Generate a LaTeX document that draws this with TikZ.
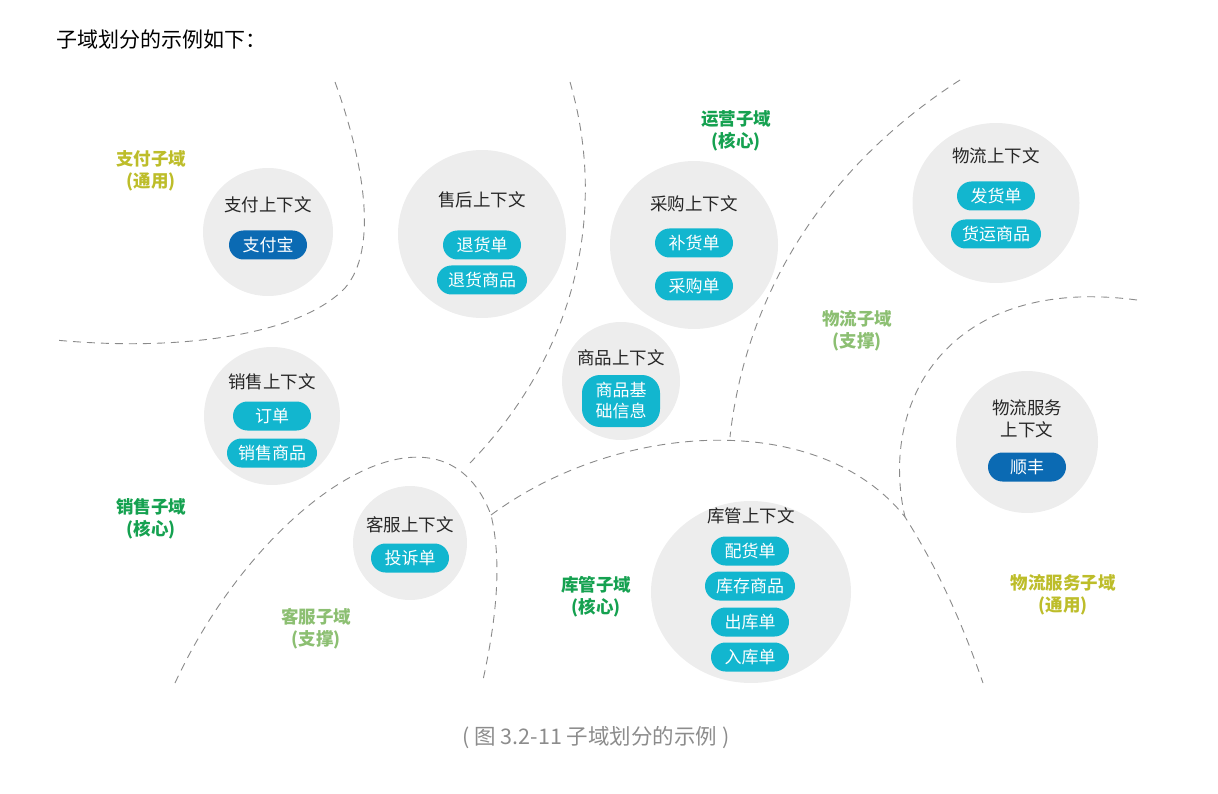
\documentclass[tikz,border=0pt]{standalone}
\usepackage{fontspec}
\setmainfont{Noto Sans CJK SC}
\usetikzlibrary{shapes.geometric}
\definecolor{ctxbg}{HTML}{EDEDED}
\definecolor{pillc}{HTML}{12B6CF}
\definecolor{pilld}{HTML}{0B6AB3}
\definecolor{gcore}{HTML}{15A150}
\definecolor{gsup}{HTML}{8CBF72}
\definecolor{ggen}{HTML}{BDBD2A}
\definecolor{dashc}{HTML}{8A8A8A}
\definecolor{capc}{HTML}{8C8C8C}
\tikzset{
  ctx/.style={ellipse, fill=ctxbg, inner sep=0pt},
  ctxtitle/.style={font=\fontsize{17.5}{22}\selectfont, text=black!85, align=center},
  pill/.style={rectangle, rounded corners=14.5pt, fill=pillc, text=white, minimum height=29pt, minimum width=78pt, inner xsep=11pt, inner ysep=0pt, font=\fontsize{17}{21}\selectfont, align=center},
  pilldark/.style={pill, fill=pilld},
  dom/.style={font=\bfseries\fontsize{17.5}{22}\selectfont, align=center},
  bound/.style={draw=dashc, line width=0.9pt, dash pattern=on 8pt off 6pt},
}
\begin{document}
\begin{tikzpicture}[x=1pt,y=-1pt]
\useasboundingbox (0,0) rectangle (1218,794);
% title and caption
\node[anchor=west, font=\fontsize{21}{24}\selectfont] (title) at (53,40) {子域划分的示例如下：};
\node[font=\fontsize{21.5}{24}\selectfont, text=capc] (cap) at (596,738) {( 图 3.2-11 子域划分的示例 )};

% boundaries
\coordinate (b1s) at (335,82);
\coordinate (b1e) at (55,340);
\draw[bound] (b1s) .. controls (365,165) and (378,250) .. (345,288) .. controls (300,335) and (180,352) .. (b1e);
\coordinate (b2s) at (570,82);
\coordinate (j1) at (470,463);
\draw[bound] (b2s) .. controls (610,220) and (570,360) .. (j1);
\coordinate (b3s) at (175,683);
\coordinate (j2) at (491,515);
\coordinate (b3e) at (483,680);
\draw[bound] (b3s) .. controls (260,500) and (440,380) .. (j2) .. controls (503,565) and (495,625) .. (b3e);
\coordinate (j3) at (905,517);
\coordinate (b4e) at (983,683);
\draw[bound] (j2) .. controls (620,420) and (820,410) .. (j3) .. controls (945,580) and (968,640) .. (b4e);
\coordinate (b5s) at (960,80);
\coordinate (j4) at (730,437);
\draw[bound] (b5s) .. controls (820,170) and (745,300) .. (j4);
\coordinate (b6s) at (1137,300);
\draw[bound] (b6s) .. controls (950,275) and (878,400) .. (j3);

% contexts
\node[ctx, minimum width=130pt, minimum height=128pt] (pay) at (268,232) {};
\node[ctxtitle] (payt) at (268,205) {支付上下文};
\node[pilldark] (payp1) at (268,245) {支付宝};

\node[ctx, minimum width=168pt, minimum height=168pt] (aft) at (482,234) {};
\node[ctxtitle] (aftt) at (482,200) {售后上下文};
\node[pill] (aftp1) at (482,245) {退货单};
\node[pill] (aftp2) at (482,280) {退货商品};

\node[ctx, minimum width=168pt, minimum height=168pt] (pur) at (694,245) {};
\node[ctxtitle] (purt) at (694,204) {采购上下文};
\node[pill] (purp1) at (694,243) {补货单};
\node[pill] (purp2) at (694,286) {采购单};

\node[ctx, minimum width=167pt, minimum height=160pt] (log) at (996,203) {};
\node[ctxtitle] (logt) at (996,156) {物流上下文};
\node[pill] (logp1) at (996,196) {发货单};
\node[pill] (logp2) at (996,234) {货运商品};

\node[ctx, minimum width=118pt, minimum height=118pt] (prd) at (621,381) {};
\node[ctxtitle] (prdt) at (621,358) {商品上下文};
\node[pill, rounded corners=18pt, minimum height=52pt, minimum width=78pt, inner xsep=6pt, font=\fontsize{17}{21}\selectfont] (prdp1) at (621,401) {商品基\\础信息};

\node[ctx, minimum width=136pt, minimum height=138pt] (sal) at (272,416) {};
\node[ctxtitle] (salt) at (272,382) {销售上下文};
\node[pill] (salp1) at (272,416) {订单};
\node[pill] (salp2) at (272,453) {销售商品};

\node[ctx, minimum width=114pt, minimum height=114pt] (svc) at (410,543) {};
\node[ctxtitle] (svct) at (410,525) {客服上下文};
\node[pill] (svcp1) at (410,558) {投诉单};

\node[ctx, minimum width=200pt, minimum height=182pt] (inv) at (751,592) {};
\node[ctxtitle] (invt) at (751,516) {库管上下文};
\node[pill] (invp1) at (750,551) {配货单};
\node[pill] (invp2) at (750,586) {库存商品};
\node[pill] (invp3) at (750,622) {出库单};
\node[pill] (invp4) at (750,657) {入库单};

\node[ctx, minimum width=142pt, minimum height=142pt] (lsv) at (1027,442) {};
\node[ctxtitle] (lsvt) at (1027,419) {物流服务\\上下文};
\node[pilldark] (lsvp1) at (1027,467) {顺丰};

% domain labels
\node[dom, text=ggen] (dpay) at (151,171) {支付子域\\(通用)};
\node[dom, text=gcore] (dops) at (736,131) {运营子域\\(核心)};
\node[dom, text=gsup] (dlog) at (857,331) {物流子域\\(支撑)};
\node[dom, text=gcore] (dsal) at (151,519) {销售子域\\(核心)};
\node[dom, text=gsup] (dsvc) at (316,629) {客服子域\\(支撑)};
\node[dom, text=gcore] (dinv) at (596,597) {库管子域\\(核心)};
\node[dom, text=ggen] (dlsv) at (1063,595) {物流服务子域\\(通用)};
\end{tikzpicture}
\end{document}
